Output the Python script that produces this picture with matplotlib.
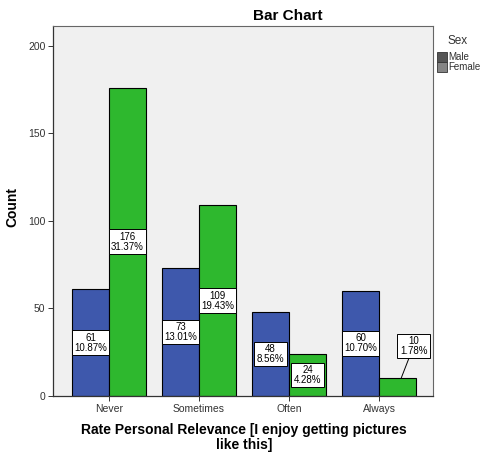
import numpy as np
import matplotlib.pyplot as plt

plt.rcParams["font.family"] = ["Liberation Sans", "DejaVu Sans"]

# ----------------------------
# Data
# ----------------------------
categories = ["Never", "Sometimes", "Often", "Always"]
male_counts = [61, 73, 48, 60]
female_counts = [176, 109, 24, 10]
male_pct = ["10.87%", "13.01%", "8.56%", "10.70%"]
female_pct = ["31.37%", "19.43%", "4.28%", "1.78%"]

MALE_COLOR = "#3E58AC"
FEMALE_COLOR = "#2EB82E"

fig = plt.figure(figsize=(4.83, 4.57), dpi=100)
fig.patch.set_facecolor("white")
ax = fig.add_axes([0.1097, 0.1335, 0.7868, 0.8095])
ax.set_facecolor("#F0F0F0")

x = np.arange(len(categories))
w = 0.41
ax.bar(x - w / 2, male_counts, width=w, color=MALE_COLOR, edgecolor="black", linewidth=0.8, zorder=2)
ax.bar(x + w / 2, female_counts, width=w, color=FEMALE_COLOR, edgecolor="black", linewidth=0.8, zorder=2)

box = dict(boxstyle="square,pad=0.25", facecolor="white", edgecolor="black", linewidth=0.7)

def put_label(xc, count, pct):
    txt = f"{count}\n{pct}"
    if count < 20:
        # small bar: label lifted above with a leader line
        ax.annotate(txt, xy=(xc + 0.04, count), xytext=(xc + 0.18, count + 18.5),
                    ha="center", va="center", fontsize=7, linespacing=1.0,
                    bbox=box, zorder=4,
                    arrowprops=dict(arrowstyle="-", color="black", lw=0.7,
                                    shrinkA=0, shrinkB=0))
    else:
        ax.text(xc, count / 2, txt, ha="center", va="center", fontsize=7,
                linespacing=1.0, bbox=box, zorder=4)

for i in range(len(categories)):
    put_label(x[i] - w / 2, male_counts[i], male_pct[i])
    put_label(x[i] + w / 2, female_counts[i], female_pct[i])

ax.set_xlim(-0.622, 3.6)
ax.set_ylim(0, 211.2)
ax.set_yticks([0, 50, 100, 150, 200])
ax.set_xticks(x)
ax.set_xticklabels(categories)
ax.tick_params(axis="both", labelsize=7.5, length=3.5, width=0.7, colors="#333333", pad=2)

for s in ["left", "bottom"]:
    ax.spines[s].set_color("#333333")
    ax.spines[s].set_linewidth(0.9)
for s in ["top", "right"]:
    ax.spines[s].set_color("#666666")
    ax.spines[s].set_linewidth(0.8)

ax.set_ylabel("Count", fontsize=10, fontweight="bold")
ax.yaxis.set_label_coords(-0.088, 0.51)

fig.text(0.505, 0.0427, "Rate Personal Relevance [I enjoy getting pictures\nlike this]",
         fontsize=10, fontweight="bold", ha="center", va="center",
         multialignment="center", linespacing=1.1)
fig.text(0.524, 0.956, "Bar Chart", fontsize=11, fontweight="bold",
         ha="left", va="baseline")

# legend outside on the right
fig.text(0.948, 0.911, "Sex", fontsize=8.5, ha="center", va="center", color="#333333")
leg_cols = ["#555555", "#858585"]
leg_names = ["Male", "Female"]
for k in range(2):
    yb = 0.865 - k * 0.0225
    fig.patches.append(plt.Rectangle((0.905, yb), 0.0207, 0.0219,
                                     transform=fig.transFigure, facecolor=leg_cols[k],
                                     edgecolor="#333333", linewidth=0.6))
    fig.text(0.9275, yb + 0.011, leg_names[k], fontsize=7, ha="left", va="center",
             color="#333333")

plt.savefig("out.png", dpi=100)
